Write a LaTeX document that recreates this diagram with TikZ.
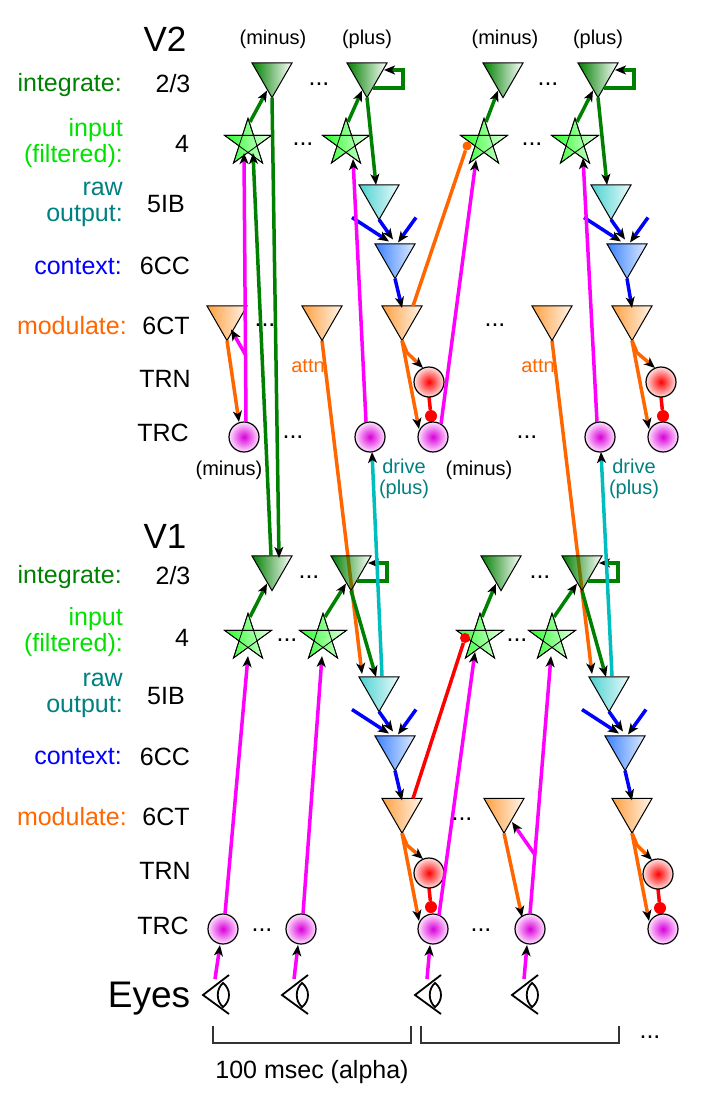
\documentclass[tikz,border=0pt]{standalone}
\usepackage{fontspec}
\setmainfont{Liberation Sans}
\usetikzlibrary{arrows.meta,calc,shapes.geometric,fadings}
\pgfdeclarelayer{under}
\pgfsetlayers{under,main}
\definecolor{gint}{RGB}{0,128,0}
\definecolor{ginp}{RGB}{0,225,0}
\definecolor{traw}{RGB}{0,128,128}
\definecolor{bctx}{RGB}{0,0,255}
\definecolor{omod}{RGB}{255,102,0}
\definecolor{cdrv}{RGB}{0,190,190}
\definecolor{magn}{RGB}{255,0,255}
\definecolor{cleft}{RGB}{60,130,255}
\definecolor{cright}{RGB}{222,235,255}
\tikzfading[name=fadetri,left color=transparent!0,right color=transparent!100]
\tikzset{
  tri/.style={regular polygon,regular polygon sides=3,shape border rotate=180,draw=black,line width=1pt,
    minimum size=46.2pt,inner sep=0pt,outer sep=0pt},
  trig/.style={tri,preaction={fill=gint,path fading=fadetri}},
  trir/.style={tri,left color=cdrv!70!white,right color=cdrv!8!white},
  tric/.style={tri,left color=cleft,right color=cright},
  trio/.style={tri,left color=orange!75!white,right color=orange!8!white},
  pent/.style={star,star points=5,star point ratio=2.618,draw=black,line width=.8pt,minimum size=49.4pt,
    inner sep=0pt,outer sep=0pt,left color=green!85!white,right color=green!10!white},
  trc/.style={circle,draw=black,line width=1.2pt,minimum size=30pt,inner sep=0pt,outer sep=0pt,
    inner color=magn!85!black,outer color=magn!12!white},
  trn/.style={trc,inner color=red,outer color=red!12!white},
  conn/.style={line width=3.5pt},
  tip/.style={-{Stealth[black,length=11pt,width=9pt,inset=3pt]}},
  lab/.style={font=\fontsize{25}{26}\selectfont,anchor=base,inner sep=0pt},
  sml/.style={font=\fontsize{20}{21}\selectfont,anchor=base,inner sep=0pt},
  big/.style={font=\fontsize{35}{35}\selectfont,anchor=base,inner sep=0pt},
}
\begin{document}
\begin{tikzpicture}[x=1pt,y=-1pt]
\useasboundingbox (0,0) rectangle (703,1097);
% V2 cells
\node[trig] (tA) at (272,74.5) {};
\node[trig] (tB) at (367,74.5) {};
\node[trig] (tC) at (503,74.5) {};
\node[trig] (tD) at (598,74.5) {};
\node[pent] (sA) at (248,143) {};
\node[pent] (sB) at (346,143) {};
\node[pent] (sC) at (484,143) {};
\node[pent] (sD) at (575,143) {};
\node[trir] (ibB) at (379,196.5) {};
\node[trir] (ibD) at (611,196.5) {};
\node[tric] (ccB) at (395,255.5) {};
\node[tric] (ccD) at (627,255.5) {};
\node[trio] (ctA) at (227,317.5) {};
\node[trio] (ctB) at (322,317.5) {};
\node[trio] (ctC) at (402,317.5) {};
\node[trio] (ctE) at (552,317.5) {};
\node[trio] (ctD) at (632,317.5) {};
\node[trn] (rnC) at (429,382) {};
\node[trn] (rnD) at (661,382) {};
\node[trc] (rcA) at (244,437) {};
\node[trc] (rcB) at (370,437) {};
\node[trc] (rcC) at (433,437) {};
\node[trc] (rcE) at (600,437) {};
\node[trc] (rcD) at (663,437) {};
% V1 cells
\node[trig] (TA) at (272,567.5) {};
\node[trig] (TB) at (351,567.5) {};
\node[trig] (TC) at (501,567.5) {};
\node[trig] (TD) at (582,567.5) {};
\node[pent] (SA) at (248,638) {};
\node[pent] (SB) at (323,638) {};
\node[pent] (SC) at (480,638) {};
\node[pent] (SD) at (552,638) {};
\node[trir] (IB) at (379,688.5) {};
\node[trir] (ID) at (609,688.5) {};
\node[tric] (CC) at (395,747.5) {};
\node[tric] (CD) at (625,747.5) {};
\node[trio] (CT) at (402,810) {};
\node[trio] (CU) at (504,810) {};
\node[trio] (CV) at (632,810) {};
\node[trn] (RN) at (429,873) {};
\node[trn] (RO) at (658,874) {};
\node[trc] (RA) at (223,929) {};
\node[trc] (RB) at (301,929) {};
\node[trc] (RC) at (433,929) {};
\node[trc] (RE) at (530,929) {};
\node[trc] (RD) at (663,929) {};
% pentagram lines
\foreach \s in {sA,sB,sC,sD,SA,SB,SC,SD}
  \draw[line width=.8pt] (\s.outer point 1) -- (\s.outer point 3) -- (\s.outer point 5) -- (\s.outer point 2) -- (\s.outer point 4) -- cycle;
% star to pyramid
\foreach \s/\t in {sA/tA,sB/tB,sC/tC,sD/tD,SA/TA,SB/TB,SC/TC,SD/TD}
  \draw[conn,gint,tip] ($(\s)+(2,-21)$) -- ($(\t)+(-5,16)$);
% self loops
\foreach \t in {tB,tD,TB,TD}
  \draw[conn,gint,tip] ($(\t)+(6,13.5)$) -- ++(30,0) -- ++(0,-18) -- ($(\t)+(17,-4.5)$);
% pyramid to raw output
\draw[conn,gint,tip] (tB.south) -- ($(ibB.north)+(-3,0)$);
\draw[conn,gint,tip] (tD.south) -- ($(ibD.north)+(-4,0)$);
\draw[conn,gint,tip] (TB.south) -- ($(IB.north)+(-3,0)$);
\draw[conn,gint,tip] (TD.south) -- ($(ID.north)+(-3,0)$);
% V1 V2 links
\draw[conn,gint,tip] (tA.south) -- ($(TA.north)+(7,2)$);
\draw[conn,gint,tip] ($(TA.north)+(-1,0)$) -- ($(sA)+(5,10)$);
% context
\foreach \i/\c in {ibB/ccB,ibD/ccD,IB/CC,ID/CD} {
  \draw[conn,bctx,tip] ($(\c)+(-43,-38)$) -- ($(\c)+(-6,-14)$);
  \draw[conn,bctx,tip] (\i.south) -- ($(\c)+(-2,-16)$);
  \draw[conn,bctx,tip] ($(\c)+(21,-38)$) -- ($(\c)+(3,-13)$);
}
\foreach \c/\m in {ccB/ctC,ccD/ctD,CC/CT,CD/CV}
  \draw[conn,bctx,tip] (\c.south) -- ($(\m.north)+(0,2)$);
% thalamus loops
\foreach \m/\n/\r in {ctC/rnC/rcC,ctD/rnD/rcD,CT/RN/RC,CV/RO/RD} {
  \draw[conn,omod,tip] (\m.south) -- ($(\m.south)+(5,12)$) -- ($(\n)+(-6,-14)$);
  \draw[conn,omod,tip] (\m.south) -- ($(\r)+(-14,-8)$);
  \begin{pgfonlayer}{under}
    \node[circle,fill=red,minimum size=12pt,inner sep=0pt] (dot\n) at ($(\n.south)+(2,19)$) {};
    \draw[conn,red] (\n.south) -- (dot\n);
  \end{pgfonlayer}
}
\draw[conn,omod,tip] (ctA.south) -- ($(rcA)+(-5,-15)$);
\draw[conn,omod,tip] (CU.south) -- ($(RE)+(-8,-12)$);
% attention
\begin{pgfonlayer}{under}
\draw[conn,omod,tip] (ctB.south) -- ($(IB.north)+(-17,-3)$);
\draw[conn,omod,tip] (ctE.south) -- ($(ID.north)+(-17,-3)$);
\end{pgfonlayer}
% drive
\draw[conn,cdrv,tip] ($(IB.north)+(3,-1)$) -- ($(rcB.south)+(2,0)$);
\draw[conn,cdrv,tip] ($(ID.north)+(3,-1)$) -- ($(rcE.south)+(1,0)$);
% feedforward
\draw[conn,magn,tip] ($(rcA)+(2,-15)$) -- coordinate[pos=.25] (brA) ($(sA)+(-4,10)$);
\draw[conn,magn,tip] (brA) -- ($(ctA)+(4,12)$);
\draw[conn,magn,tip] ($(rcB)+(-4,-15)$) -- ($(sB)+(7,16)$);
\draw[conn,magn,tip] ($(rcC)+(8,-13)$) -- ($(sC)+(-8,17)$);
\draw[conn,magn,tip] ($(rcE)+(-3,-15)$) -- ($(sD)+(8,15)$);
\draw[conn,magn,tip] ($(RA)+(2,-15)$) -- ($(SA)+(0,18)$);
\draw[conn,magn,tip] ($(RB)+(2,-15)$) -- ($(SB)+(-1,18)$);
\draw[conn,magn,tip] ($(RC)+(6,-14)$) -- ($(SC)+(-5,14)$);
\draw[conn,magn,tip] ($(RE)+(0,-15)$) -- coordinate[pos=.23] (brB) ($(SD)+(-1,18)$);
\draw[conn,magn,tip] (brB) -- ($(CU)+(8,12)$);
% cross inhibition
\node[circle,fill=omod,minimum size=9pt,inner sep=0pt] (dotA) at (467,146) {};
\draw[conn,omod] ($(ctC.north)+(11,0)$) -- (dotA);
\node[circle,fill=red,minimum size=10pt,inner sep=0pt] (dotB) at (465,638) {};
\draw[conn,red] ($(CT.north)+(11,0)$) -- (dotB);
% eyes
\foreach \e/\x/\r in {A/203/RA,B/282/RB,C/415/RC,D/512/RE} {
  \coordinate (eye\e) at (\x,995);
  \draw[line width=1.8pt] ($(eye\e)+(26,-20)$) -- (eye\e) -- ($(eye\e)+(26,19)$);
  \draw[line width=1.8pt] ($(eye\e)+(20,-12)$) .. controls ($(eye\e)+(28,-6)$) and ($(eye\e)+(28,6)$) .. ($(eye\e)+(20,12)$)
    .. controls ($(eye\e)+(13,6)$) and ($(eye\e)+(13,-6)$) .. cycle;
  \draw[conn,magn,tip] ($(eye\e)+(12,-16)$) -- ($(\r)+(-3,16)$);
}
% brackets
\draw[line width=1.3pt,black!80] (213,1026) |- (411,1043) -- (411,1026);
\draw[line width=1.3pt,black!80] (421,1026) |- (619,1043) -- (619,1026);
% labels
\node[big] (vtwo) at (165,52) {V2};
\node[big] (vone) at (165,548) {V1};
\node[big,font=\fontsize{37}{37}\selectfont] (eyes) at (149,1007) {Eyes};
\node[lab,anchor=base east,gint] (li2) at (122,92) {integrate:};
\node[lab,anchor=east,align=right,ginp] (li3) at (123,143) {input~\\(filtered):};
\node[lab,anchor=east,align=right,traw] (li4) at (123,204) {raw~\\output:};
\node[lab,anchor=base east,bctx] (li5) at (122,274) {context:};
\node[lab,anchor=base east,omod] (li6) at (127,334) {modulate:};
\node[lab,anchor=base east,gint] (lj2) at (122,583) {integrate:};
\node[lab,anchor=east,align=right,ginp] (lj3) at (123,632) {input~\\(filtered):};
\node[lab,anchor=east,align=right,traw] (lj4) at (123,695) {raw~\\output:};
\node[lab,anchor=base east,bctx] (lj5) at (122,764) {context:};
\node[lab,anchor=base east,omod] (lj6) at (127,825) {modulate:};
\foreach \n/\t/\x/\y in {a/2\slash 3/173/93,b/4/182/152,c/5IB/166/212,d/6CC/165/274,e/6CT/166/334,f/TRN/165/387,g/TRC/163/441,
    h/2\slash 3/173/584,i/4/182/646,j/5IB/166/704,k/6CC/165/765,l/6CT/166/825,m/TRN/165/879,n/TRC/163/934}
  \node[lab] (lay\n) at (\x,\y) {\t};
\foreach \n/\t/\x/\y in {a/(minus)/273/45,b/(plus)/367/45,c/(minus)/505/45,d/(plus)/598/45,e/(minus)/229/475,f/(minus)/479/475}
  \node[sml] (cap\n) at (\x,\y) {\t};
\node[sml,anchor=center,align=center,traw] (drva) at (404,479) {drive\\(plus)};
\node[sml,anchor=center,align=center,traw] (drvb) at (634,479) {drive\\(plus)};
\node[sml,omod] (atna) at (308,372) {attn};
\node[sml,omod] (atnb) at (538,372) {attn};
\node[lab] (msec) at (312,1078) {100 msec (alpha)};
% dots
\foreach \n/\x/\y in {a/319/86,b/548/86,c/303/146,d/532/146,e/265/326,f/495/326,g/293/438,h/527/438,
    i/309/578,j/540/578,k/287/641,l/517/641,m/462/820,o/262/931,p/481/931,q/650/1038}
  \node[lab] (dd\n) at (\x,\y) {...};
\end{tikzpicture}
\end{document}
